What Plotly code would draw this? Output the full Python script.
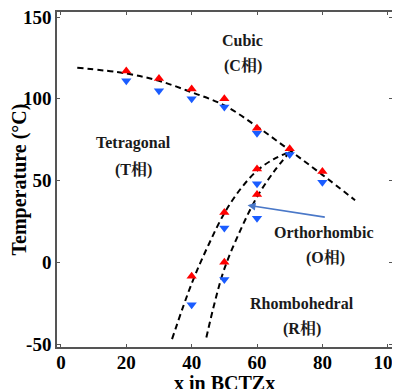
import plotly.graph_objects as go

# Data
red_x = [20, 30, 40, 50, 60, 70, 80, 40, 50, 60, 50, 60]
red_y = [117, 112.5, 106, 100, 82, 69.5, 55.5, -8.5, 30.5, 57, 0, 41.5]
blue_x = [20, 30, 40, 50, 60, 70, 80, 40, 50, 60, 50, 60]
blue_y = [111, 105, 100, 95, 79, 66, 49, -26, 21, 48, -10.5, 27]

# Dashed phase boundaries
c1_x = [5, 20, 30, 40, 50, 60, 70, 80, 90]
c1_y = [119, 115.5, 111, 104, 96, 83, 68.5, 53.5, 38]
c2_x = [34, 40, 45, 50, 55, 60, 65, 70]
c2_y = [-47, -13, 10, 30, 45, 56, 63, 67.5]
c3_x = [44.5, 47, 50, 55, 60, 65, 70]
c3_y = [-46, -25, -4, 20, 40, 55, 67.5]

x_ticks = [0, 20, 40, 60, 80, 100]
y_ticks = [-50, 0, 50, 100, 150]

SERIF = "Liberation Serif, Times New Roman, Noto Serif CJK SC, Noto Sans CJK SC, serif"

fig = go.Figure()
for cx, cy in [(c1_x, c1_y), (c2_x, c2_y), (c3_x, c3_y)]:
    fig.add_trace(go.Scatter(x=cx, y=cy, mode="lines",
                             line=dict(color="black", width=2, dash="6px,4px", shape="spline", smoothing=1.0),
                             showlegend=False, hoverinfo="skip"))

fig.add_trace(go.Scatter(x=red_x, y=red_y, mode="markers",
                         marker=dict(symbol="triangle-up", color="#ff0000", size=9, line=dict(width=0)),
                         showlegend=False))
fig.add_trace(go.Scatter(x=blue_x, y=blue_y, mode="markers",
                         marker=dict(symbol="triangle-down", color="#1a5cff", size=9, line=dict(width=0)),
                         showlegend=False))

labels = [
    ("Cubic", 55.6, 135.8), ("(C相)", 55.6, 120),
    ("Tetragonal", 22.3, 72.8), ("(T相)", 22.3, 56.3),
    ("Orthorhombic", 80.6, 18.3), ("(O相)", 80.9, 2.4),
    ("Rhombohedral", 73.9, -25), ("(R相)", 73.9, -41),
]
for t, x, y in labels:
    fig.add_annotation(x=x, y=y, text="<b>%s</b>" % t, showarrow=False,
                       font=dict(family=SERIF, size=16, color="#1a1a1a"))

# arrow
fig.add_annotation(x=57.1, y=34.9, ax=81.2, ay=27.5, xref="x", yref="y", axref="x", ayref="y",
                   text="", showarrow=True, arrowhead=2, arrowsize=1, arrowwidth=1.6,
                   arrowcolor="#4a78c8")

# x-axis title as annotation (sits just below the tick labels)
fig.add_annotation(x=0.5, y=-0.108, xref="paper", yref="paper", showarrow=False,
                   text="<b>x in BCTZx</b>", yanchor="middle",
                   font=dict(family=SERIF, size=20, color="black"))

axis_common = dict(showgrid=False, zeroline=False, showline=True, linecolor="#555", linewidth=1.5,
                   mirror="allticks", ticks="inside", ticklen=3, tickcolor="#555", automargin=False,
                   ticklabeloverflow="allow",
                   tickfont=dict(family=SERIF, size=19, color="black"))

fig.update_xaxes(range=[-1.2, 101.3], tickvals=x_ticks, ticktext=["<b>%d</b>" % v for v in x_ticks],
                 ticklabelstandoff=-3, **axis_common)
fig.update_yaxes(range=[-51.8, 153.1], tickvals=y_ticks, ticktext=["<b>%d</b>" % v for v in y_ticks],
                 title=dict(text="<b>Temperature (°C)</b>", font=dict(family=SERIF, size=20, color="black"), standoff=2),
                 **axis_common)

fig.update_layout(width=392, height=381, margin=dict(l=49, r=8, t=4, b=42),
                  plot_bgcolor="white", paper_bgcolor="white")

fig.write_html("out.html")
